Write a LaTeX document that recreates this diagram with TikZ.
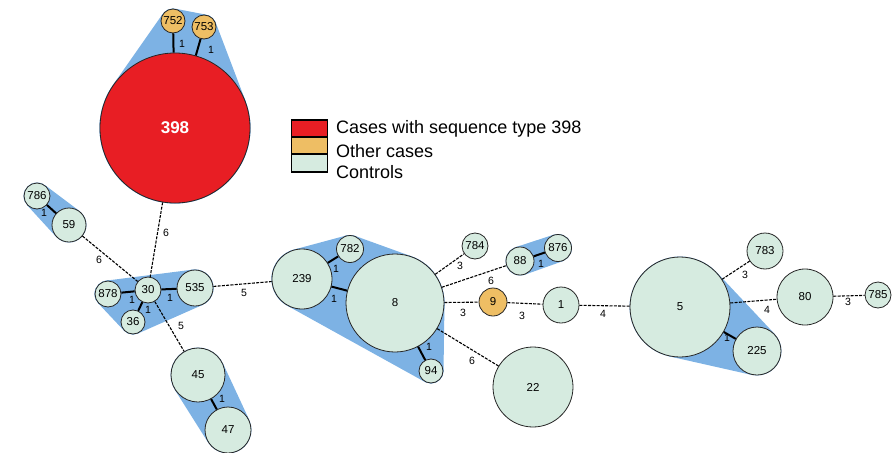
\documentclass[tikz,border=0pt]{standalone}
\usepackage{fontspec}
\setmainfont{Liberation Sans}
\usetikzlibrary{calc}
\definecolor{hullc}{RGB}{125,178,228}
\definecolor{ctrl}{RGB}{214,235,224}
\definecolor{oth}{RGB}{238,190,100}
\definecolor{stred}{RGB}{232,30,36}
\newcommand\hullpair[6]{%
  \pgfmathsetmacro\hdx{#4-(#1)}%
  \pgfmathsetmacro\hdy{#5-(#2)}%
  \pgfmathsetmacro\hd{veclen(\hdx,\hdy)}%
  \pgfmathsetmacro\hth{atan2(\hdy,\hdx)}%
  \pgfmathsetmacro\hra{#3+0.5}%
  \pgfmathsetmacro\hrb{#6+0.5}%
  \pgfmathsetmacro\hal{acos((\hra-\hrb)/\hd)}%
  \fill[hullc] ($(#1,#2)+(\hth+\hal:\hra)$) -- ($(#4,#5)+(\hth+\hal:\hrb)$) -- ($(#4,#5)+(\hth-\hal:\hrb)$) -- ($(#1,#2)+(\hth-\hal:\hra)$) -- cycle;
  \fill[hullc] (#1,#2) circle[radius=\hra] (#4,#5) circle[radius=\hrb];
}
\tikzset{
  st/.style={circle,draw=black!85,line width=0.8pt,inner sep=0pt,minimum size=#1,font=\fontsize{11.5}{12}\selectfont},
  ctl/.style={st=#1,fill=ctrl},
  oc/.style={st=#1,fill=oth},
  link/.style={line width=2pt,black},
  dlink/.style={line width=1.1pt,black,dash pattern=on 3pt off 1.3pt},
  lab/.style={font=\fontsize{10.5}{11}\selectfont,inner sep=0pt},
  legbox/.style={draw=black,line width=1.3pt,minimum width=36pt,minimum height=17pt,inner sep=0pt},
  legtext/.style={anchor=west,font=\fontsize{18}{19}\selectfont,inner sep=0pt}
}
\begin{document}
\begin{tikzpicture}[x=1pt,y=-1pt]
\useasboundingbox (0,0) rectangle (893,452);
% hulls
\hullpair{173}{21}{12}{204}{27}{12}
\hullpair{173}{21}{12}{175}{128}{75}
\hullpair{204}{27}{12}{175}{128}{75}
\hullpair{37}{196}{13}{69}{225}{17}
\hullpair{108}{294}{13}{195}{288}{18}
\hullpair{195}{288}{18}{133}{322}{12}
\hullpair{133}{322}{12}{108}{294}{13}
\fill[hullc] (108,294) -- (195,288) -- (133,322) -- cycle;
\hullpair{198}{375}{27}{228}{430}{23}
\hullpair{302}{279}{30}{350}{249}{13.5}
\hullpair{350}{249}{13.5}{395}{303}{49}
\hullpair{395}{303}{49}{431}{371}{12}
\hullpair{431}{371}{12}{302}{279}{30}
\fill[hullc] (302,279) -- (350,249) -- (395,303) -- (431,371) -- cycle;
\hullpair{520}{261}{14}{558}{248}{13.5}
\hullpair{680}{307}{50}{757}{351}{24}
% nodes
\node[st=150pt,fill=stred,text=white,font=\fontsize{17}{18}\selectfont\bfseries] (n398) at (175,128) {398};
\node[oc=24pt] (n752) at (173,21) {752};
\node[oc=24pt] (n753) at (204,27) {753};
\node[ctl=26pt] (n786) at (37,196) {786};
\node[ctl=34pt] (n59) at (69,225) {59};
\node[ctl=26pt] (n30) at (148,290) {30};
\node[ctl=26pt] (n878) at (108,294) {878};
\node[ctl=24pt] (n36) at (133,322) {36};
\node[ctl=36pt] (n535) at (195,288) {535};
\node[ctl=54pt] (n45) at (198,375) {45};
\node[ctl=46pt] (n47) at (228,430) {47};
\node[ctl=60pt] (n239) at (302,279) {239};
\node[ctl=27pt] (n782) at (350,249) {782};
\node[ctl=98pt] (n8) at (395,303) {8};
\node[ctl=24pt] (n94) at (431,371) {94};
\node[ctl=26pt] (n784) at (475,246) {784};
\node[ctl=28pt] (n88) at (520,261) {88};
\node[ctl=27pt] (n876) at (558,248) {876};
\node[oc=28pt] (n9) at (493,302) {9};
\node[ctl=36pt] (n1) at (561,305) {1};
\node[ctl=80pt] (n22) at (533,387) {22};
\node[ctl=100pt] (n5) at (680,307) {5};
\node[ctl=36pt] (n783) at (765,251) {783};
\node[ctl=56pt] (n80) at (805,297) {80};
\node[ctl=26pt] (n785) at (878,295) {785};
\node[ctl=48pt] (n225) at (757,351) {225};
% solid links
\draw[link] (n398) -- (n752);
\draw[link] (n398) -- (n753);
\draw[link] (n786) -- (n59);
\draw[link] (n30) -- (n878);
\draw[link] (n30) -- (n36);
\draw[link] (n30) -- (n535);
\draw[link] (n45) -- (n47);
\draw[link] (n239) -- (n782);
\draw[link] (n239) -- (n8);
\draw[link] (n8) -- (n94);
\draw[link] (n88) -- (n876);
\draw[link] (n5) -- (n225);
% dashed links
\draw[dlink] (n398) -- (n30);
\draw[dlink] (n59) -- (n30);
\draw[dlink] (n30) -- (n45);
\draw[dlink] (n535) -- (n239);
\draw[dlink] (n8) -- (n784);
\draw[dlink] (n8) -- (n88);
\draw[dlink] (n8) -- (n9);
\draw[dlink] (n9) -- (n1);
\draw[dlink] (n1) -- (n5);
\draw[dlink] (n8) -- (n22);
\draw[dlink] (n5) -- (n783);
\draw[dlink] (n5) -- (n80);
\draw[dlink] (n80) -- (n785);
% labels
\node[lab] (l1) at (182,44) {1};
\node[lab] (l2) at (211,50) {1};
\node[lab] (l3) at (44,213) {1};
\node[lab] (l4) at (132,300) {1};
\node[lab] (l5) at (170,298) {1};
\node[lab] (l6) at (148,310) {1};
\node[lab] (l7) at (222,399) {1};
\node[lab] (l8) at (336,269) {1};
\node[lab] (l9) at (334,299) {1};
\node[lab] (l10) at (429,347) {1};
\node[lab] (l11) at (541,264) {1};
\node[lab] (l12) at (727,338) {1};
\node[lab] (l13) at (166,233) {6};
\node[lab] (l14) at (99,260) {6};
\node[lab] (l15) at (181,326) {5};
\node[lab] (l16) at (244,293) {5};
\node[lab] (l17) at (460,266) {3};
\node[lab] (l18) at (491,281) {6};
\node[lab] (l19) at (463,313) {3};
\node[lab] (l20) at (522,316) {3};
\node[lab] (l21) at (603,314) {4};
\node[lab] (l22) at (472,361) {6};
\node[lab] (l23) at (745,275) {3};
\node[lab] (l24) at (767,310) {4};
\node[lab] (l25) at (848,302) {3};
% legend
\node[legbox,fill=stred] (k1) at (309.5,128.5) {};
\node[legbox,fill=oth] (k2) at (309.5,145.5) {};
\node[legbox,fill=ctrl,minimum height=18pt] (k3) at (309.5,163) {};
\node[legtext] (t1) at (336,129) {Cases with sequence type 398};
\node[legtext] (t2) at (336,151) {Other cases};
\node[legtext] (t3) at (336,172) {Controls};
\end{tikzpicture}
\end{document}
